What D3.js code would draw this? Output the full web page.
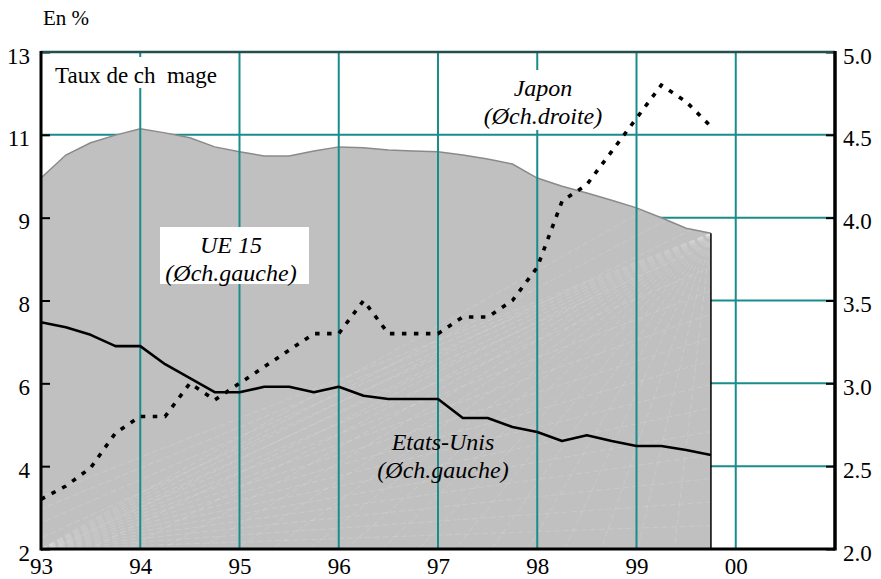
<!DOCTYPE html>
<html><head><meta charset="utf-8">
<script src="https://cdn.jsdelivr.net/npm/d3@7/dist/d3.min.js"></script>
<style>
body{margin:0;background:#fff}
</style>
</head><body>
<svg id="c" width="881" height="579"></svg>
<script>
// ---- data (quarterly, in %) ----
const quarters = ["93T1","93T2","93T3","93T4","94T1","94T2","94T3","94T4",
  "95T1","95T2","95T3","95T4","96T1","96T2","96T3","96T4",
  "97T1","97T2","97T3","97T4","98T1","98T2","98T3","98T4",
  "99T1","99T2","99T3","99T4"];
const ue15 = [10.21,10.72,10.99,11.16,11.30,11.21,11.10,10.90,
  10.79,10.70,10.70,10.81,10.90,10.88,10.83,10.81,
  10.79,10.72,10.63,10.52,10.21,10.03,9.88,9.72,
  9.55,9.33,9.10,8.99];
const etatsUnis = [7.02,6.91,6.74,6.49,6.49,6.09,5.78,5.47,
  5.47,5.59,5.59,5.47,5.59,5.39,5.32,5.32,
  5.32,4.90,4.90,4.70,4.59,4.39,4.52,4.39,
  4.28,4.28,4.19,4.08];
const japon = [2.30,2.38,2.49,2.70,2.80,2.80,3.00,2.90,
  3.00,3.10,3.20,3.30,3.30,3.50,3.30,3.30,
  3.30,3.40,3.40,3.50,3.70,4.10,4.20,4.40,
  4.60,4.80,4.70,4.55];
const xTickLabels = ["93","94","95","96","97","98","99","00"];
const leftTickLabels = ["2","4","6","8","9","11","13"];
const rightTickLabels = ["2.0","2.5","3.0","3.5","4.0","4.5","5.0"];

// ---- font detection (pick an installed serif face) ----
function hasFont(f){
  const c = document.createElement("canvas").getContext("2d");
  const s = "Taux de ch mage Etats-Unis 0123456789 WMiil";
  for (const base of ["monospace", "sans-serif"]) {
    c.font = "40px " + base; const a = c.measureText(s).width;
    c.font = `40px "${f}", ${base}`; const b = c.measureText(s).width;
    if (Math.abs(a - b) > 0.5) return true;
  }
  return false;
}
const serifCands = ["Liberation Serif","Tinos","Times New Roman","Times","Nimbus Roman","Nimbus Roman No9 L",
  "DejaVu Serif","Noto Serif","FreeSerif","Noto Serif CJK SC","Noto Serif CJK JP","Source Han Serif","Georgia"];
const found = serifCands.find(hasFont);
const FONT = found ? `"${found}", serif` : "serif";

// ---- helpers ----
const qToYear = s => 1900 + (+s.slice(0,2) < 50 ? 100 : 0) + (+s.slice(0,2)) + (+s.slice(3) - 1) / 4;
const yrLab = s => 1900 + (+s < 50 ? 100 : 0) + (+s);
const xs = quarters.map(qToYear);
const xTickVals = xTickLabels.map(yrLab);

const W = 881, H = 579;
const m = {l:41, r:46, t:52, b:30};
const svg = d3.select("#c").attr("font-family", FONT).style("font-family", FONT);

const x = d3.scaleLinear().domain([xTickVals[0], xTickVals[xTickVals.length-1] + 1]).range([m.l, W - m.r]);
const lMin = +leftTickLabels[0], lMax = +leftTickLabels[leftTickLabels.length-1];
const yL = d3.scaleLinear().domain([lMin, lMax]).range([H - m.b, m.t]);
const yR = d3.scaleLinear().domain([+rightTickLabels[0], +rightTickLabels[rightTickLabels.length-1]]).range([H - m.b, m.t]);
const nT = leftTickLabels.length;
const leftTickVals = d3.range(nT).map(i => lMin + i * (lMax - lMin) / (nT - 1));
const rightTickVals = rightTickLabels.map(Number);

const teal = "#1a8c8c";

// horizontal grid (under the area)
svg.append("g").selectAll("line").data(rightTickVals.slice(1, -1)).join("line")
  .attr("x1", x.range()[0]).attr("x2", x.range()[1])
  .attr("y1", d => yR(d)).attr("y2", d => yR(d))
  .attr("stroke", teal).attr("stroke-width", 2);

// area UE 15
const area = d3.area().x((d,i) => x(xs[i])).y0(yL(lMin)).y1(d => yL(d));
const areaD = area(ue15);
svg.append("clipPath").attr("id","ac").append("path").attr("d", areaD);
svg.append("path").attr("d", areaD).attr("fill", "#c0c0c0");

// faint texture of the original rendering
const tex = svg.append("g").attr("clip-path","url(#ac)")
  .attr("stroke","#ffffff").attr("stroke-opacity",0.3).attr("stroke-width",0.5).attr("fill","none")
  .attr("stroke-dasharray","6,3");
const x0 = x(xs[0]), x1 = x(xs[xs.length-1]), yb = yL(lMin), yt = yL(ue15[ue15.length-1]);
d3.range(0, 1.0001, 1/16).forEach(t => {
  tex.append("line").attr("x1", x0).attr("y1", yb).attr("x2", x1).attr("y2", yb - t * (yb - yt + 60));
});
d3.range(0, 1.0001, 1/22).forEach(t => {
  tex.append("line").attr("x1", x1).attr("y1", yt).attr("x2", x1 - t * (x1 - x0) * 1.2).attr("y2", yb);
});

// area top edge + right edge
svg.append("path").attr("d", d3.line().x((d,i) => x(xs[i])).y(d => yL(d))(ue15))
  .attr("fill","none").attr("stroke","#8a8a8a").attr("stroke-width",1.5);
svg.append("line").attr("x1", x1).attr("x2", x1).attr("y1", yt).attr("y2", yb)
  .attr("stroke","#000").attr("stroke-width",1.5);

// vertical grid
svg.append("g").selectAll("line").data(xTickVals.slice(1)).join("line")
  .attr("x1", d => x(d)).attr("x2", d => x(d))
  .attr("y1", m.t).attr("y2", H - m.b)
  .attr("stroke", teal).attr("stroke-width", 2);

// label boxes
function box(x_, y_, w, h){ svg.append("rect").attr("x",x_).attr("y",y_).attr("width",w).attr("height",h).attr("fill","#fff"); }
box(50, 57, 185, 31);
box(160, 227, 149, 57);
box(478, 70, 128, 60);

// lines
svg.append("path").attr("d", d3.line().x((d,i) => x(xs[i])).y(d => yL(d))(etatsUnis))
  .attr("fill","none").attr("stroke","#000").attr("stroke-width",2.6).attr("stroke-linejoin","round");
svg.append("path").attr("d", d3.line().x((d,i) => x(xs[i])).y(d => yR(d))(japon))
  .attr("fill","none").attr("stroke","#000").attr("stroke-width",3.6).attr("stroke-dasharray","4.5,7.5");

// axes
const fs = 23;
const gl = svg.append("g").attr("transform",`translate(${m.l},0)`)
  .call(d3.axisLeft(yL).tickValues(leftTickVals).tickFormat((d,i) => leftTickLabels[i]).tickSize(-9).tickPadding(11));
const gr = svg.append("g").attr("transform",`translate(${W - m.r},0)`)
  .call(d3.axisRight(yR).tickValues(rightTickVals).tickFormat((d,i) => rightTickLabels[i]).tickSize(-9).tickPadding(8));
const gb = svg.append("g").attr("transform",`translate(0,${H - m.b})`)
  .call(d3.axisBottom(x).tickValues(xTickVals).tickFormat((d,i) => xTickLabels[i]).tickSize(0).tickPadding(9));
[gl, gr, gb].forEach(g => {
  g.select(".domain").remove();
  g.attr("font-family", FONT).attr("font-size", fs);
  g.selectAll("text").style("font-family", FONT).style("font-size", fs + "px").attr("fill","#000");
  g.selectAll("line").attr("stroke","#000").attr("stroke-width",2);
});
gl.selectAll("text").attr("dy","0.48em");
gr.selectAll("text").attr("dy","0.48em");

// frame
svg.append("line").attr("x1", m.l).attr("x2", W - m.r).attr("y1", m.t).attr("y2", m.t)
  .attr("stroke","#234f4f").attr("stroke-width",2.5);
svg.append("line").attr("x1", m.l).attr("x2", m.l).attr("y1", m.t - 1).attr("y2", H - m.b + 1.5)
  .attr("stroke","#000").attr("stroke-width",3);
svg.append("line").attr("x1", W - m.r).attr("x2", W - m.r).attr("y1", m.t - 1).attr("y2", H - m.b + 1.5)
  .attr("stroke","#000").attr("stroke-width",3.5);
svg.append("line").attr("x1", m.l).attr("x2", W - m.r).attr("y1", H - m.b).attr("y2", H - m.b)
  .attr("stroke","#000").attr("stroke-width",3);

// texts
function txt(x_, y_, s, size, extra){
  const t = svg.append("text").attr("x", x_).attr("y", y_).style("font-family", FONT).style("font-size", size + "px").attr("fill","#000").text(s);
  if (extra) extra(t);
  return t;
}
txt(43, 25, "En %", 21);
txt(55, 83, "Taux de ch  mage", 23, t => t.style("white-space","pre"));
function lab(cx, y1, t1, t2){
  [t1, t2].forEach((s, k) => txt(cx, y1 + 28 * k, s, 24, t => t.attr("text-anchor","middle").style("font-style","italic")));
}
lab(231, 253, "UE 15", "(Øch.gauche)");
lab(543, 96, "Japon", "(Øch.droite)");
lab(443, 450, "Etats-Unis", "(Øch.gauche)");
</script>
</body></html>
